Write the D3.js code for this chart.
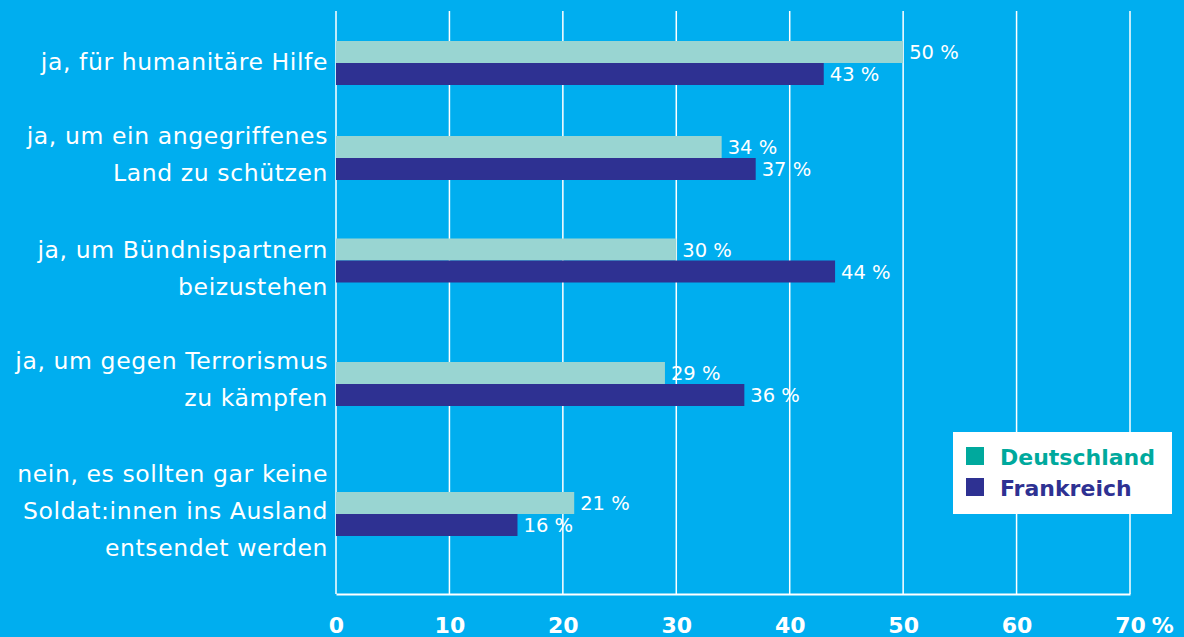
<!DOCTYPE html>
<html>
<head>
<meta charset="utf-8">
<script src="https://cdn.jsdelivr.net/npm/d3@7"></script>
<style>
  html, body { margin: 0; padding: 0; background: #00AEEF; }
  svg { display: block; }
  text { font-family: "DejaVu Sans", "Noto Sans", sans-serif; }
</style>
</head>
<body>
<svg id="chart" width="1184" height="637"></svg>
<script>
// Survey answers (category labels split into display lines)
const categories = [
  ["ja, für humanitäre Hilfe"],
  ["ja, um ein angegriffenes", "Land zu schützen"],
  ["ja, um Bündnispartnern", "beizustehen"],
  ["ja, um gegen Terrorismus", "zu kämpfen"],
  ["nein, es sollten gar keine", "Soldat:innen ins Ausland", "entsendet werden"]
];
const seriesNames = ["Deutschland", "Frankreich"];
const deutschland = [50, 34, 30, 29, 21];
const frankreich = [43, 37, 44, 36, 16];
const xTicks = [0, 10, 20, 30, 40, 50, 60, 70];

const barColors = ["#99D5D2", "#2E3192"];
const legendColors = ["#00A99D", "#2E3192"];

const svg = d3.select("#chart");
const keys = categories.map((c, i) => i);

// Horizontal value scale
const x = d3.scaleLinear().domain([0, 70]).range([336, 1130]);
const plotTop = 11, plotBottom = 594;

// Row centres (boundary between the two bars of a group)
const yRow = d3.scaleOrdinal().domain(keys).range([63, 158, 260.5, 384, 514]);
// Baseline of the first label line for each group
const yLabel = d3.scaleOrdinal().domain(keys).range([70, 144, 258, 369, 482]);
const lineStep = 37;
const barH = 22;

// Gridlines
svg.append("g")
  .selectAll("line")
  .data(xTicks.slice(1))
  .join("line")
  .attr("x1", d => x(d)).attr("x2", d => x(d))
  .attr("y1", plotTop).attr("y2", plotBottom)
  .attr("stroke", "#ffffff").attr("stroke-width", 1.5);

// Left axis line
svg.append("line")
  .attr("x1", x(0)).attr("x2", x(0))
  .attr("y1", plotTop).attr("y2", plotBottom)
  .attr("stroke", "#ffffff").attr("stroke-width", 1.5);

// Bars with value labels
const g = svg.append("g");
keys.forEach(i => {
  [deutschland[i], frankreich[i]].forEach((v, s) => {
    const top = s === 0 ? yRow(i) - barH : yRow(i);
    g.append("rect")
      .attr("x", x(0))
      .attr("y", top)
      .attr("width", x(v) - x(0))
      .attr("height", barH)
      .attr("fill", barColors[s]);
    g.append("text")
      .attr("x", x(v) + 6)
      .attr("y", top + barH / 2)
      .attr("dy", "0.36em")
      .attr("fill", "#ffffff")
      .attr("font-size", 19.5)
      .text(v + " %");
  });
});

// Bottom axis
const xAxis = d3.axisBottom(x).tickValues(xTicks).tickSize(0).tickFormat(d => d);
const axisG = svg.append("g")
  .attr("transform", `translate(0,${plotBottom})`)
  .call(xAxis);
axisG.select(".domain").attr("stroke", "#ffffff").attr("stroke-width", 2);
axisG.selectAll(".tick text")
  .attr("fill", "#ffffff")
  .attr("font-size", 22)
  .attr("font-weight", "bold")
  .attr("font-family", "\"DejaVu Sans\", sans-serif")
  .attr("dy", 0)
  .attr("y", 39);
// Percent sign after the last tick value
axisG.selectAll(".tick").filter(d => d === 70).each(function () {
  const t = d3.select(this).select("text");
  const w = t.node().getComputedTextLength();
  d3.select(this).append("text")
    .attr("x", w / 2 + 6)
    .attr("y", 39)
    .attr("text-anchor", "start")
    .attr("fill", "#ffffff")
    .attr("font-size", 22)
    .attr("font-weight", "bold")
    .attr("font-family", "\"DejaVu Sans\", sans-serif")
    .text("%");
});

// Category labels
const labels = svg.append("g");
keys.forEach(i => {
  const t = labels.append("text")
    .attr("text-anchor", "end")
    .attr("fill", "#ffffff")
    .attr("font-size", 23.5)
    .attr("letter-spacing", 0.6);
  categories[i].forEach((line, j) => {
    t.append("tspan")
      .attr("x", 328)
      .attr("y", yLabel(i) + j * lineStep)
      .text(line);
  });
});

// Legend
const lg = svg.append("g").attr("transform", "translate(953,432)");
lg.append("rect").attr("width", 219).attr("height", 82).attr("fill", "#ffffff");
seriesNames.forEach((name, s) => {
  lg.append("rect")
    .attr("x", 13).attr("y", 15 + s * 31)
    .attr("width", 18).attr("height", 18)
    .attr("fill", legendColors[s]);
  lg.append("text")
    .attr("x", 47).attr("y", 33 + s * 31)
    .attr("fill", legendColors[s])
    .attr("font-size", 22)
    .attr("font-weight", "bold")
    .text(name);
});
</script>
</body>
</html>
